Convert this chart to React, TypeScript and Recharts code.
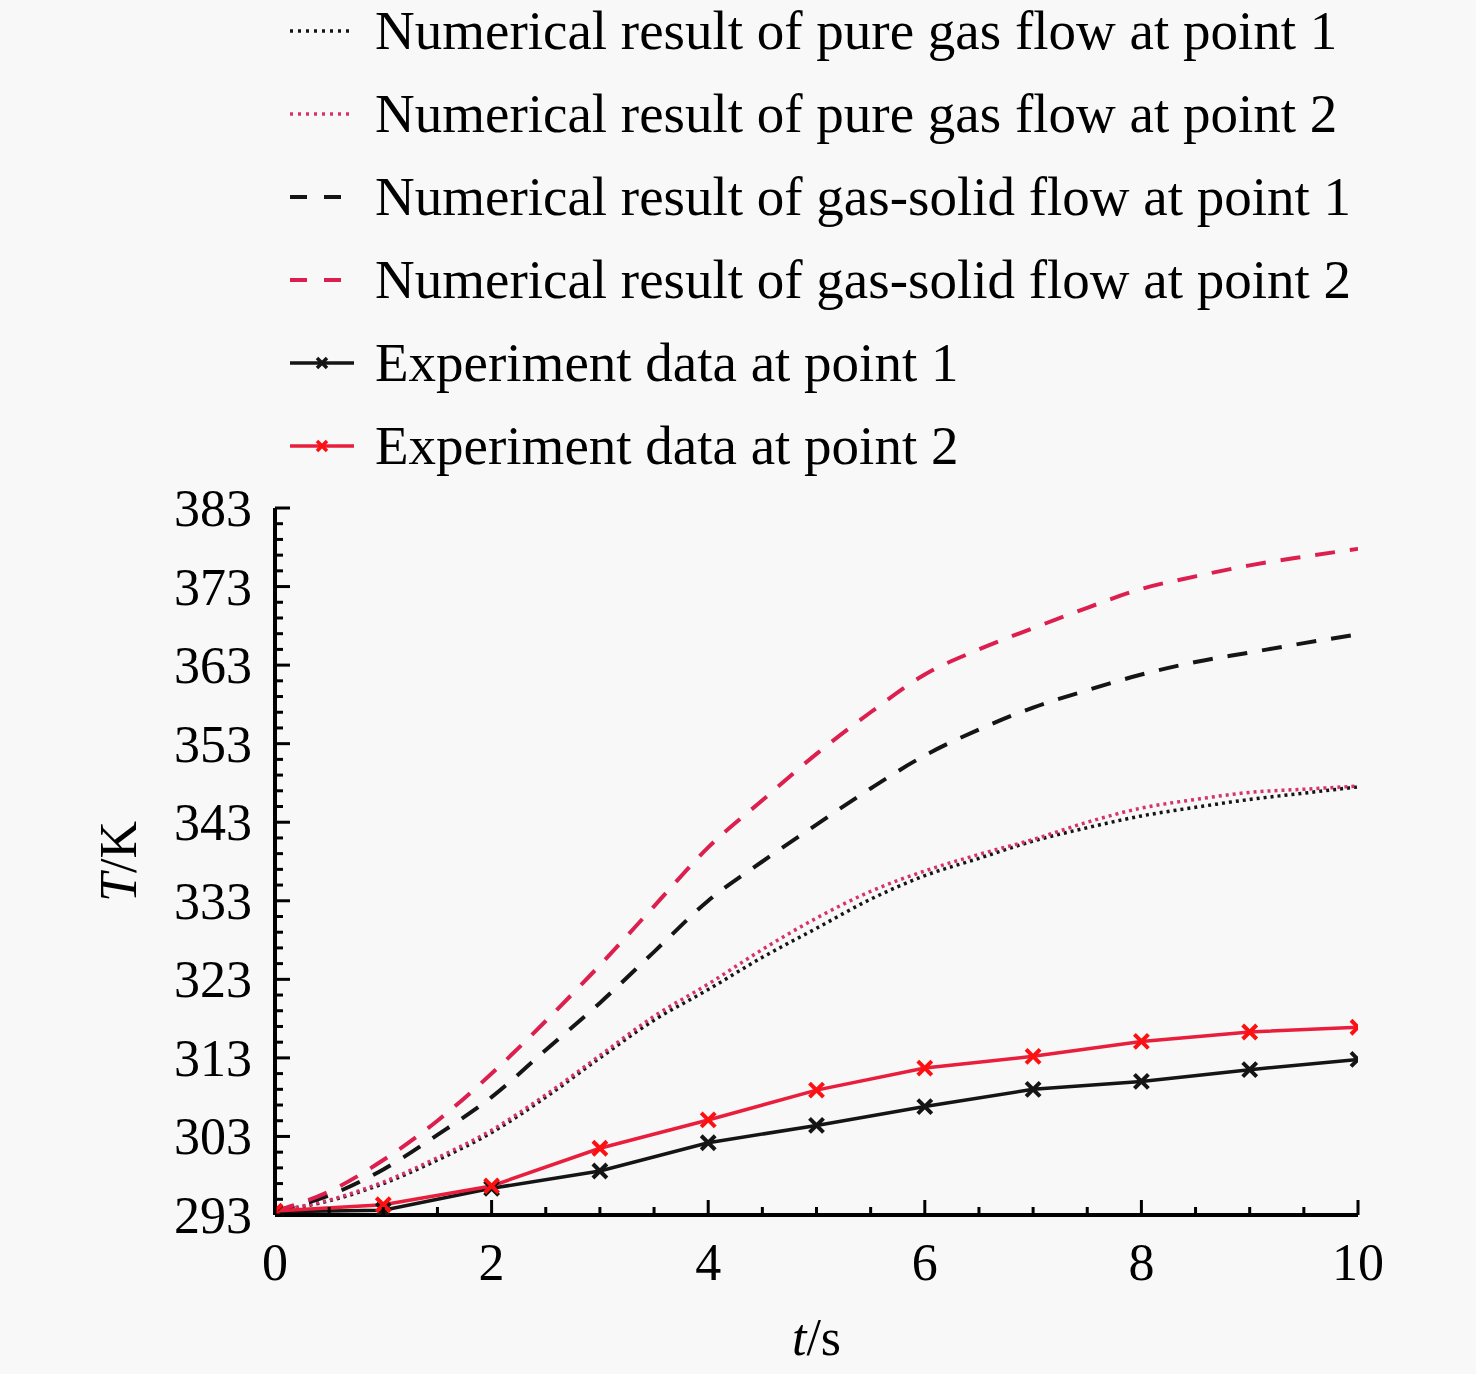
import React from 'react';
import { LineChart, Line, XAxis, YAxis, Legend, Label } from 'recharts';

// ---------- data ----------
const time = [0, 0.5, 1, 1.5, 2, 2.5, 3, 3.5, 4, 4.5, 5, 5.5, 6, 6.5, 7, 7.5, 8, 8.5, 9, 9.5, 10];
const pureGasP1 = [293.5, 294.8, 297.0, 300.0, 303.5, 308.0, 313.0, 317.8, 321.7, 325.8, 329.5, 333.2, 336.2, 338.4, 340.6, 342.3, 343.8, 344.9, 345.9, 346.7, 347.5];
const pureGasP2 = [293.5, 294.9, 297.2, 300.3, 303.8, 308.3, 313.3, 318.3, 322.4, 326.8, 330.8, 334.2, 336.8, 338.9, 340.8, 343.0, 344.8, 345.9, 346.8, 347.2, 347.6];
const gasSolidP1 = [293.5, 295.5, 298.8, 303.2, 308.0, 314.0, 320.0, 326.5, 333.0, 338.0, 342.7, 347.3, 351.5, 354.8, 357.6, 359.8, 361.8, 363.4, 364.6, 365.8, 366.9];
const gasSolidP2 = [293.5, 296.0, 300.0, 305.0, 311.0, 317.7, 324.8, 332.3, 339.8, 345.8, 351.7, 357.0, 361.8, 365.0, 367.7, 370.3, 372.7, 374.3, 375.7, 376.8, 377.8];
const expTime = [0, 1, 2, 3, 4, 5, 6, 7, 8, 9, 10];
const expP1 = [293.4, 293.6, 296.4, 298.6, 302.2, 304.4, 306.8, 309.0, 310.0, 311.5, 312.8];
const expP2 = [293.5, 294.3, 296.7, 301.5, 305.1, 308.9, 311.7, 313.2, 315.1, 316.3, 316.9];

const xTicks = [0, 0.5, 1, 1.5, 2, 2.5, 3, 3.5, 4, 4.5, 5, 5.5, 6, 6.5, 7, 7.5, 8, 8.5, 9, 9.5, 10];
const xLabels = [0, 2, 4, 6, 8, 10];
const yTicks = [293, 295, 297, 299, 301, 303, 305, 307, 309, 311, 313, 315, 317, 319, 321, 323, 325, 327, 329, 331, 333, 335, 337, 339, 341, 343, 345, 347, 349, 351, 353, 355, 357, 359, 361, 363, 365, 367, 369, 371, 373, 375, 377, 379, 381, 383];
const yLabels = [293, 303, 313, 323, 333, 343, 353, 363, 373, 383];

const seriesNames = {
  pg1: 'Numerical result of pure gas flow at point 1',
  pg2: 'Numerical result of pure gas flow at point 2',
  gs1: 'Numerical result of gas-solid flow at point 1',
  gs2: 'Numerical result of gas-solid flow at point 2',
  e1: 'Experiment data at point 1',
  e2: 'Experiment data at point 2',
};

const table = time.map((t, i) => {
  const j = expTime.indexOf(t);
  return {
    t,
    pg1: pureGasP1[i],
    pg2: pureGasP2[i],
    gs1: gasSolidP1[i],
    gs2: gasSolidP2[i],
    e1: j >= 0 ? expP1[j] : null,
    e2: j >= 0 ? expP2[j] : null,
  };
});

// ---------- styles ----------
const FONT = '"Liberation Serif", "Times New Roman", serif';
const BG = '#f8f8f8';
const BLACK = '#151515';
const DASH_RED = '#dc1f4e';
const DOT_PINK = '#d6336b';
const EXP_RED = '#e81e3c';
const MARK_RED = '#ff1010';

const styles = {
  pg1: { color: BLACK, dash: '3 4', width: 3.5, kind: 'dot' },
  pg2: { color: DOT_PINK, dash: '3 4', width: 3.5, kind: 'dot' },
  gs1: { color: BLACK, dash: '20 15', width: 4, kind: 'dash' },
  gs2: { color: DASH_RED, dash: '20 15', width: 4, kind: 'dash' },
  e1: { color: BLACK, dash: undefined, width: 3.5, kind: 'exp', mark: BLACK },
  e2: { color: EXP_RED, dash: undefined, width: 3.5, kind: 'exp', mark: MARK_RED },
};
const order = ['pg1', 'pg2', 'gs1', 'gs2', 'e1', 'e2'];

const W = 1476;
const H = 1374;
const Y_AXIS_W = 160;
const X_AXIS_H = 120;
const margin = { top: 508, right: 118, bottom: H - 1215 - X_AXIS_H, left: 275 - Y_AXIS_W };

const TICK_STROKE = 3;
const AXIS_STROKE = 4;

const BottomTick = (props: any) => {
  const { x, y, payload } = props;
  const v = payload.value;
  const major = xLabels.includes(v);
  return (
    <g>
      <line x1={x} x2={x} y1={y} y2={y - (major ? 15 : 8)} stroke="#000" strokeWidth={TICK_STROKE} />
      {major && (
        <text x={x} y={y + 65} textAnchor="middle" fontSize={52} fontFamily={FONT} fill="#000">
          {v}
        </text>
      )}
    </g>
  );
};

const TopTick = (props: any) => {
  const { x, y, payload } = props;
  const major = xLabels.includes(payload.value);
  return <line x1={x} x2={x} y1={y} y2={y + (major ? 15 : 8)} stroke="#000" strokeWidth={TICK_STROKE} />;
};

const LeftTick = (props: any) => {
  const { x, y, payload } = props;
  const v = payload.value;
  const major = yLabels.includes(v);
  return (
    <g>
      <line x1={x} x2={x + (major ? 15 : 8)} y1={y} y2={y} stroke="#000" strokeWidth={TICK_STROKE} />
      {major && (
        <text x={x - 23} y={y + 18} textAnchor="end" fontSize={52} fontFamily={FONT} fill="#000">
          {v}
        </text>
      )}
    </g>
  );
};

const RightTick = (props: any) => {
  const { x, y, payload } = props;
  const major = yLabels.includes(payload.value);
  return <line x1={x} x2={x - (major ? 15 : 8)} y1={y} y2={y} stroke="#000" strokeWidth={TICK_STROKE} />;
};

const makeCross = (color: string) => (props: any) => {
  const { cx, cy, value, index } = props;
  if (cx == null || cy == null || value == null || Number.isNaN(cy)) return <g key={`n${index}`} />;
  const s = 7;
  return (
    <path
      key={`c${index}`}
      d={`M${cx - s},${cy - s}L${cx + s},${cy + s}M${cx - s},${cy + s}L${cx + s},${cy - s}`}
      stroke={color}
      strokeWidth={4}
      fill="none"
    />
  );
};

const XAxisLabel = (props: any) => {
  const vb = props.viewBox || {};
  const cx = vb.x + vb.width / 2;
  const y = vb.y + 140;
  return (
    <text x={cx} y={y} textAnchor="middle" fontSize={52} fontFamily={FONT} fill="#000">
      <tspan fontStyle="italic">t</tspan>
      <tspan>/s</tspan>
    </text>
  );
};

const YAxisLabel = (props: any) => {
  const vb = props.viewBox || {};
  const cx = vb.x + vb.width - 157;
  const cy = vb.y + vb.height / 2;
  return (
    <text
      x={cx}
      y={cy}
      transform={`rotate(-90, ${cx}, ${cy})`}
      textAnchor="middle"
      dominantBaseline="central"
      fontSize={52}
      fontFamily={FONT}
      fill="#000"
    >
      <tspan fontStyle="italic">T</tspan>
      <tspan>/K</tspan>
    </text>
  );
};

const LegendIcon = ({ k }: { k: string }) => {
  const st = (styles as any)[k];
  if (st.kind === 'dot') {
    return (
      <svg width={70} height={20}>
        <line x1={2} x2={66} y1={10} y2={10} stroke={st.color} strokeWidth={3.5} strokeDasharray="3 5" />
      </svg>
    );
  }
  if (st.kind === 'dash') {
    return (
      <svg width={70} height={20}>
        <line x1={2} x2={54} y1={10} y2={10} stroke={st.color} strokeWidth={4} strokeDasharray="17 17" />
      </svg>
    );
  }
  const cx = 34;
  const cy = 10;
  const s = 5;
  return (
    <svg width={70} height={20}>
      <line x1={2} x2={66} y1={10} y2={10} stroke={st.color} strokeWidth={3.5} />
      <path
        d={`M${cx - s},${cy - s}L${cx + s},${cy + s}M${cx - s},${cy + s}L${cx + s},${cy - s}`}
        stroke={st.mark}
        strokeWidth={3.5}
      />
    </svg>
  );
};

const LegendContent = () => (
  <div style={{ position: 'relative', width: W, height: 480 }}>
    {order.map((k, i) => (
      <div
        key={k}
        style={{
          position: 'absolute',
          left: 288,
          top: 3 + i * 83,
          height: 56,
          lineHeight: '56px',
          display: 'flex',
          alignItems: 'center',
          whiteSpace: 'nowrap',
        }}
      >
        <div style={{ width: 87, height: 20, display: 'flex', alignItems: 'center' }}>
          <LegendIcon k={k} />
        </div>
        <span style={{ fontFamily: FONT, fontSize: 55, color: '#000', lineHeight: '56px' }}>
          {(seriesNames as any)[k]}
        </span>
      </div>
    ))}
  </div>
);

export default function App() {
  return (
    <div style={{ position: 'absolute', left: 0, top: 0, width: W, height: H, background: BG, overflow: 'hidden' }}>
      <LineChart width={W} height={H} data={table} margin={margin}>
        <XAxis
          dataKey="t"
          type="number"
          domain={[0, 10]}
          ticks={xTicks}
          interval={0}
          tickSize={0}
          tickMargin={0}
          tickLine={false}
          height={X_AXIS_H}
          axisLine={{ stroke: '#000', strokeWidth: AXIS_STROKE }}
          tick={<BottomTick />}
          allowDataOverflow
        >
          <Label content={<XAxisLabel />} />
        </XAxis>
        <XAxis
          xAxisId="top"
          orientation="top"
          dataKey="t"
          type="number"
          domain={[0, 10]}
          ticks={xTicks}
          interval={0}
          tickSize={0}
          tickMargin={0}
          tickLine={false}
          height={0}
          axisLine={{ stroke: '#000', strokeWidth: AXIS_STROKE }}
          tick={<TopTick />}
          allowDataOverflow
        />
        <YAxis
          type="number"
          domain={[293, 383]}
          ticks={yTicks}
          interval={0}
          tickSize={0}
          tickMargin={0}
          tickLine={false}
          width={Y_AXIS_W}
          axisLine={{ stroke: '#000', strokeWidth: AXIS_STROKE }}
          tick={<LeftTick />}
          allowDataOverflow
        >
          <Label content={<YAxisLabel />} />
        </YAxis>
        <YAxis
          yAxisId="right"
          orientation="right"
          type="number"
          domain={[293, 383]}
          ticks={yTicks}
          interval={0}
          tickSize={0}
          tickMargin={0}
          tickLine={false}
          width={0}
          axisLine={{ stroke: '#000', strokeWidth: AXIS_STROKE }}
          tick={<RightTick />}
          allowDataOverflow
        />
        <Legend
          layout="vertical"
          align="center"
          verticalAlign="middle"
          wrapperStyle={{ left: 0, top: 0, width: W, height: 480 }}
          content={<LegendContent />}
        />
        {order.map((k) => {
          const st = (styles as any)[k];
          const isExp = st.kind === 'exp';
          return (
            <Line
              key={k}
              dataKey={k}
              name={(seriesNames as any)[k]}
              type={isExp ? 'linear' : 'monotone'}
              stroke={st.color}
              strokeWidth={st.width}
              strokeDasharray={st.dash}
              dot={isExp ? makeCross(st.mark) : false}
              activeDot={false}
              connectNulls
              isAnimationActive={false}
            />
          );
        })}
      </LineChart>
    </div>
  );
}
